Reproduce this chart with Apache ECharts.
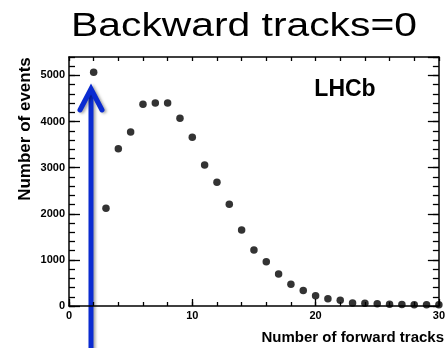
<!DOCTYPE html>
<html>
<head>
<meta charset="utf-8">
<script src="https://cdn.jsdelivr.net/npm/echarts@6/dist/echarts.min.js"></script>
<style>
html,body{margin:0;padding:0;background:#fff;}
#c{width:448px;height:348px;}
</style>
</head>
<body>
<div id="c"></div>
<script>
// Data
var forwardTracks = [2,3,4,5,6,7,8,9,10,11,12,13,14,15,16,17,18,19,20,21,22,23,24,25,26,27,28,29,30];
var events = [5070,2120,3410,3775,4375,4405,4400,4070,3660,3060,2685,2205,1650,1215,960,695,470,335,225,155,125,65,60,50,40,30,25,25,25];
var xTickValues = [0,10,20,30];
var yTickValues = [0,1000,2000,3000,4000,5000];
var titleText = 'Backward tracks=0';
var xName = 'Number of forward tracks';
var yName = 'Number of events';
var tagText = 'LHCb';

var FONT = '"Liberation Sans", Arial, Helvetica, sans-serif';
var chart = echarts.init(document.getElementById('c'), null, {renderer:'canvas'});

function axis(o){
  return {
    type:'value',
    min:o.min, max:o.max, interval:o.interval,
    position:o.position,
    offset:0,
    splitLine:{show:false},
    axisLine:{show:!!o.line, onZero:false, lineStyle:{color:'#000', width:1.5}},
    axisTick:{show:true, inside:true, length:o.tick, lineStyle:{color:'#000', width:1.3}},
    minorTick:{show:false},
    axisLabel: o.labels ? {show:true, showMaxLabel:o.showMax, fontSize:11, fontWeight:'bold', color:'#000',
      fontFamily:FONT, margin:4,
      formatter:function(v){ return o.labels.indexOf(v) >= 0 ? String(v) : ''; }} : {show:false}
  };
}

var data = forwardTracks.map(function(x,i){ return [x, events[i]]; });

var option = {
  animation:false,
  backgroundColor:'#fff',
  grid:{left:69, right:4, top:57, bottom:42},
  xAxis:[
    axis({min:0, max:30, interval:10, position:'bottom', tick:7, line:true, labels:xTickValues, showMax:true}),
    axis({min:0, max:30, interval:2, position:'bottom', tick:4}),
    axis({min:0, max:30, interval:2, position:'top', tick:4, line:true})
  ],
  yAxis:[
    axis({min:0, max:5400, interval:1000, position:'left', tick:11, line:true, labels:yTickValues, showMax:false}),
    axis({min:0, max:5400, interval:200, position:'left', tick:6}),
    axis({min:0, max:5400, interval:1000, position:'right', tick:11, line:true}),
    axis({min:0, max:5400, interval:200, position:'right', tick:6})
  ],
  series:[{
    type:'scatter',
    xAxisIndex:0, yAxisIndex:0,
    data:data,
    symbol:'circle',
    symbolSize:7.5,
    itemStyle:{color:'#000'},
    clip:false,
    z:5
  }],
  graphic:[
    {type:'text', x:244, y:27, scaleX:1.2,
      style:{text:titleText, fontSize:34, fontFamily:FONT, fill:'#000', textAlign:'center', textVerticalAlign:'middle'}},
    {type:'text', x:345, y:90,
      style:{text:tagText, fontSize:23, fontWeight:'bold', fontFamily:FONT, fill:'#000', textAlign:'center', textVerticalAlign:'middle'}},
    {type:'text', x:444, y:338,
      style:{text:xName, fontSize:15, fontWeight:'bold', fontFamily:FONT, fill:'#000', textAlign:'right', textVerticalAlign:'middle'}},
    {type:'text', x:25, y:129, rotation:Math.PI/2,
      style:{text:yName, fontSize:17, fontWeight:'bold', fontFamily:FONT, fill:'#000', textAlign:'center', textVerticalAlign:'middle'}},
    {type:'group', z:100, children:[
      {type:'line', shape:{x1:91, y1:350, x2:91, y2:92},
        style:{stroke:'#0a2bd1', lineWidth:5, shadowBlur:3, shadowColor:'rgba(0,0,0,0.35)', shadowOffsetX:2, shadowOffsetY:1}},
      {type:'polyline', shape:{points:[[80,110],[91,89],[102,110]]},
        style:{stroke:'#0a2bd1', fill:null, lineWidth:5, lineJoin:'miter', lineCap:'round', shadowBlur:3, shadowColor:'rgba(0,0,0,0.35)', shadowOffsetX:2, shadowOffsetY:1}}
    ]}
  ]
};
chart.setOption(option);
</script>
</body>
</html>
